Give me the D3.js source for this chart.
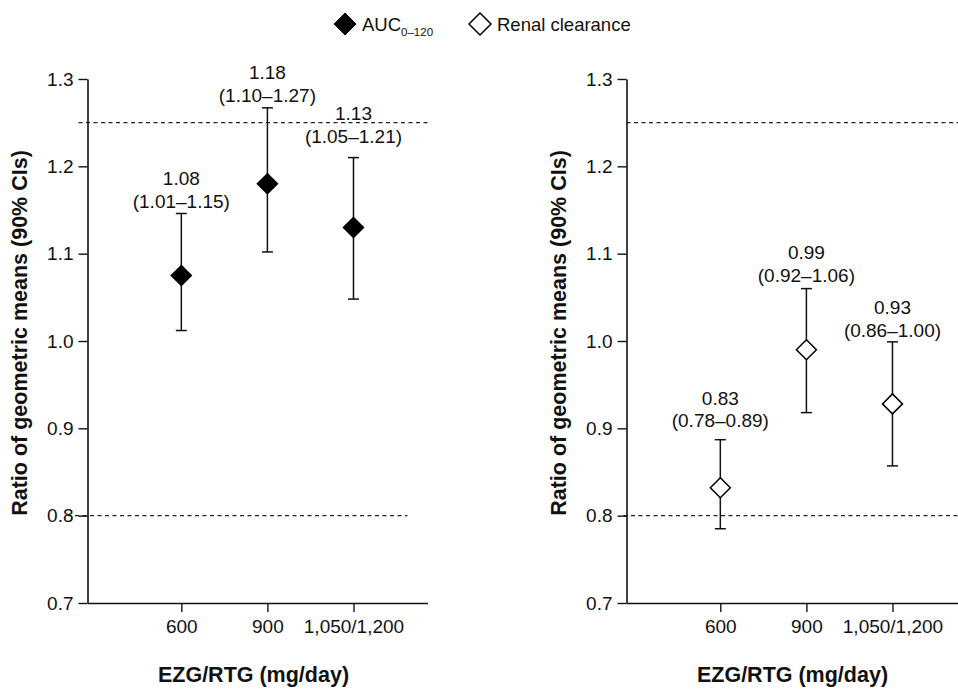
<!DOCTYPE html>
<html>
<head>
<meta charset="utf-8">
<script src="https://cdn.jsdelivr.net/npm/d3@7"></script>
<style>
  html, body { margin: 0; padding: 0; background: #fff; }
  svg { display: block; }
  text { font-family: "Liberation Sans", Arial, Helvetica, sans-serif; fill: #111; }
</style>
</head>
<body>
<svg id="chart" width="958" height="690"></svg>
<script>
// ---------------- DATA ----------------
const categories = ["600", "900", "1,050/1,200"];
const yTicks = [0.7, 0.8, 0.9, 1.0, 1.1, 1.2, 1.3];
const refLines = [0.8, 1.25];

const aucRatio = [1.075, 1.180, 1.130];
const aucLower = [1.012, 1.102, 1.048];
const aucUpper = [1.146, 1.267, 1.210];
const aucValueLabels = ["1.08", "1.18", "1.13"];
const aucCILabels = ["(1.01\u20131.15)", "(1.10\u20131.27)", "(1.05\u20131.21)"];

const rcRatio = [0.832, 0.990, 0.928];
const rcLower = [0.785, 0.918, 0.857];
const rcUpper = [0.887, 1.060, 0.999];
const rcValueLabels = ["0.83", "0.99", "0.93"];
const rcCILabels = ["(0.78\u20130.89)", "(0.92\u20131.06)", "(0.86\u20131.00)"];

const legendLabels = ["AUC", "Renal clearance"];
const legendSub = "0\u2013120";
const yTitle = "Ratio of geometric means (90% CIs)";
const xTitle = "EZG/RTG (mg/day)";

// ---------------- LAYOUT ----------------
const svg = d3.select("#chart");
const plotTop = 79, plotBottom = 603, axisLen = 340;
const panels = [
  { x0: 87.5, ratio: aucRatio, lower: aucLower, upper: aucUpper, v: aucValueLabels, ci: aucCILabels,
    filled: true, gaps: [12.3, 13, 21.6], refExt: [[-20, 320], [-9, 340]], titleX: 19 },
  { x0: 626.5, ratio: rcRatio, lower: rcLower, upper: rcUpper, v: rcValueLabels, ci: rcCILabels,
    filled: false, gaps: [19, 13.6, 11.7], refExt: [[-3, 340], [0, 340]], titleX: 558 }
];

const y = d3.scaleLinear().domain([0.7, 1.3]).range([plotBottom, plotTop]);
const x = d3.scaleLinear().domain([-1.09, 2.86]).range([0, axisLen]);

function diamond(r) {
  return `M0,${-r}L${r},0L0,${r}L${-r},0Z`;
}

panels.forEach(p => {
  const g = svg.append("g").attr("transform", `translate(${p.x0},0)`);

  // reference dashed lines
  refLines.forEach((v, i) => {
    const ext = p.refExt[i];
    g.append("line")
      .attr("x1", ext[0]).attr("x2", ext[1])
      .attr("y1", y(v)).attr("y2", y(v))
      .attr("stroke", "#222").attr("stroke-width", 1.4)
      .attr("stroke-dasharray", "4,3.5");
  });

  // y axis
  const ya = g.append("g")
    .call(d3.axisLeft(y).tickValues(yTicks).tickFormat(d3.format(".1f")).tickSize(9).tickSizeOuter(0).tickPadding(5));
  // x axis
  const xa = g.append("g").attr("transform", `translate(0,${plotBottom})`)
    .call(d3.axisBottom(x).tickValues([0, 1, 2]).tickFormat(i => categories[i]).tickSize(9).tickSizeOuter(0).tickPadding(8));
  [ya, xa].forEach(a => {
    a.select(".domain").attr("stroke", "#111").attr("stroke-width", 1.6);
    a.selectAll(".tick line").attr("stroke", "#111").attr("stroke-width", 1.4);
    a.selectAll(".tick text").style("font-size", "19px").attr("fill", "#111")
      .style("font-family", '"Liberation Sans", Arial, sans-serif');
  });

  // error bars, points, labels
  categories.forEach((c, i) => {
    const cx = x(i);
    g.append("line").attr("x1", cx).attr("x2", cx)
      .attr("y1", y(p.lower[i])).attr("y2", y(p.upper[i]))
      .attr("stroke", "#111").attr("stroke-width", 1.5);
    [p.lower[i], p.upper[i]].forEach(v => {
      g.append("line").attr("x1", cx - 5.5).attr("x2", cx + 5.5)
        .attr("y1", y(v)).attr("y2", y(v))
        .attr("stroke", "#111").attr("stroke-width", 1.5);
    });
    g.append("path").attr("d", diamond(10))
      .attr("transform", `translate(${cx},${y(p.ratio[i])})`)
      .attr("fill", p.filled ? "#000" : "#fff")
      .attr("stroke", "#000").attr("stroke-width", 1.5);

    const line2 = y(p.upper[i]) - p.gaps[i];
    const line1 = line2 - 22.5;
    g.append("text").attr("x", cx).attr("y", line1 + 6.8)
      .attr("text-anchor", "middle").style("font-size", "19px").text(p.v[i]);
    g.append("text").attr("x", cx).attr("y", line2 + 6.8)
      .attr("text-anchor", "middle").style("font-size", "19px").text(p.ci[i]);
  });

  // axis titles
  g.append("text")
    .attr("x", 166).attr("y", 682)
    .attr("text-anchor", "middle")
    .style("font-size", "21.5px").style("font-weight", "bold")
    .text(xTitle);
  svg.append("text")
    .attr("transform", `translate(${p.titleX + 7.8},333) rotate(-90)`)
    .attr("text-anchor", "middle")
    .style("font-size", "21.5px").style("font-weight", "bold")
    .text(yTitle);
});

// ---------------- LEGEND ----------------
const lg = svg.append("g");
lg.append("path").attr("d", diamond(11)).attr("transform", "translate(345,24)")
  .attr("fill", "#000").attr("stroke", "#000").attr("stroke-width", 1);
const t1 = lg.append("text").attr("x", 362).attr("y", 31).style("font-size", "18.5px");
t1.append("tspan").text(legendLabels[0]);
t1.append("tspan").attr("dy", 5).style("font-size", "11.5px").text(legendSub);
lg.append("path").attr("d", diamond(11)).attr("transform", "translate(480,24)")
  .attr("fill", "#fff").attr("stroke", "#000").attr("stroke-width", 1.5);
lg.append("text").attr("x", 497).attr("y", 31).style("font-size", "18.5px").text(legendLabels[1]);
</script>
</body>
</html>
